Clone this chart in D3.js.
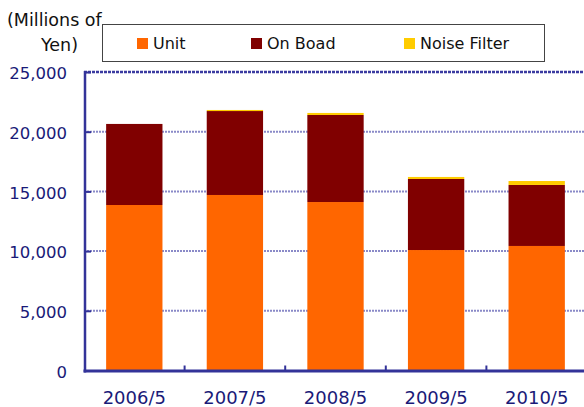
<!DOCTYPE html>
<html><head><meta charset="utf-8">
<script src="https://cdn.jsdelivr.net/npm/d3@7/dist/d3.min.js"></script>
<style>html,body{margin:0;padding:0;background:#fff;overflow:hidden}</style>
</head><body>
<svg id="c" width="584" height="407"></svg>
<script>
const categories = ["2006/5","2007/5","2008/5","2009/5","2010/5"];
const unitValues = [13860,14700,14110,10090,10430];
const onBoardValues = [6790,7030,7290,5950,5110];
const noiseFilterValues = [0,90,170,170,330];
const seriesNames = ["Unit","On Boad","Noise Filter"];
const seriesColors = ["#FF6600","#800000","#FFCC00"];
const yTicks = [0,5000,10000,15000,20000,25000];

const FONT = "'DejaVu Sans',Verdana,sans-serif";
const svg = d3.select("#c");
const L = 84, R = 587, T = 72, B = 370.5;
const x = d3.scaleBand().domain(categories).range([L,R]).paddingInner(0.44).paddingOuter(0.22);
const y = d3.scaleLinear().domain([0,25000]).range([B,T]);
const navy = "#1a1a78";
const axisCol = "#333399";

// gridlines
svg.append("g").selectAll("line").data(yTicks.filter(d=>d>0)).join("line")
  .attr("x1",L).attr("x2",584).attr("y1",d=>y(d)).attr("y2",d=>y(d))
  .attr("stroke",d=>d===25000?"#3a3aa0":"#8a8ac8")
  .attr("stroke-width",d=>d===25000?2.5:2)
  .attr("stroke-dasharray",d=>d===25000?"3,1":"2,1");

// stacked bars
const rows = categories.map((c,i)=>({cat:c, a:unitValues[i], b:onBoardValues[i], c2:noiseFilterValues[i]}));
const stack = d3.stack().keys(["a","b","c2"])(rows);
svg.append("g").selectAll("g").data(stack).join("g")
  .attr("fill",(d,i)=>seriesColors[i])
  .selectAll("rect").data(d=>d).join("rect")
  .attr("x",d=>x(d.data.cat)).attr("width",x.bandwidth())
  .attr("y",d=>y(d[1])).attr("height",d=>Math.max(0,y(d[0])-y(d[1])));

// axes
const yAxis = d3.axisLeft(y).tickValues(yTicks).tickSize(-6).tickPadding(18).tickFormat(d3.format(","));
const gy = svg.append("g").attr("transform",`translate(${L+1},0)`).call(yAxis);
gy.select(".domain").remove();
gy.selectAll(".tick line").attr("stroke",axisCol).attr("stroke-width",2);
gy.selectAll(".tick text").attr("fill",navy).attr("font-size",16.5).attr("x",-18)
  .attr("font-family",FONT).attr("dy","0.4em");
svg.append("line").attr("x1",L+1).attr("x2",L+1).attr("y1",T-1).attr("y2",B+2)
  .attr("stroke",axisCol).attr("stroke-width",2.5);

const step = x.step();
const bounds = d3.range(1,categories.length).map(i=>L+i*step);
svg.append("g").selectAll("line").data(bounds).join("line")
  .attr("x1",d=>d).attr("x2",d=>d).attr("y1",B-5).attr("y2",B)
  .attr("stroke",axisCol).attr("stroke-width",2);
svg.append("line").attr("x1",L-0.5).attr("x2",586).attr("y1",B+0.5).attr("y2",B+0.5)
  .attr("stroke",axisCol).attr("stroke-width",3);

const xAxis = d3.axisBottom(x).tickSize(0).tickPadding(21);
const gx = svg.append("g").attr("transform",`translate(0,${B})`).call(xAxis);
gx.select(".domain").remove();
gx.selectAll(".tick text").attr("fill",navy).attr("font-size",18)
  .attr("font-family",FONT);

// y axis title
svg.append("text").attr("x",7).attr("y",26).attr("font-size",17.5).attr("fill","#111")
  .attr("font-family",FONT).text("(Millions of");
svg.append("text").attr("x",78).attr("y",51).attr("text-anchor","end").attr("font-size",17.5).attr("fill","#111")
  .attr("font-family",FONT).text("Yen)");

// legend
svg.append("rect").attr("x",102.5).attr("y",24.5).attr("width",442).attr("height",37)
  .attr("fill","#fff").attr("stroke","#444").attr("stroke-width",1);
const legX = [137,251,404];
const lg = svg.append("g").selectAll("g").data(seriesNames).join("g")
  .attr("transform",(d,i)=>`translate(${legX[i]},38)`);
lg.append("rect").attr("width",11).attr("height",11).attr("fill",(d,i)=>seriesColors[i]);
lg.append("text").attr("x",16).attr("y",11).attr("font-size",16).attr("fill","#111")
  .attr("font-family",FONT).text(d=>d);
</script>
</body></html>
